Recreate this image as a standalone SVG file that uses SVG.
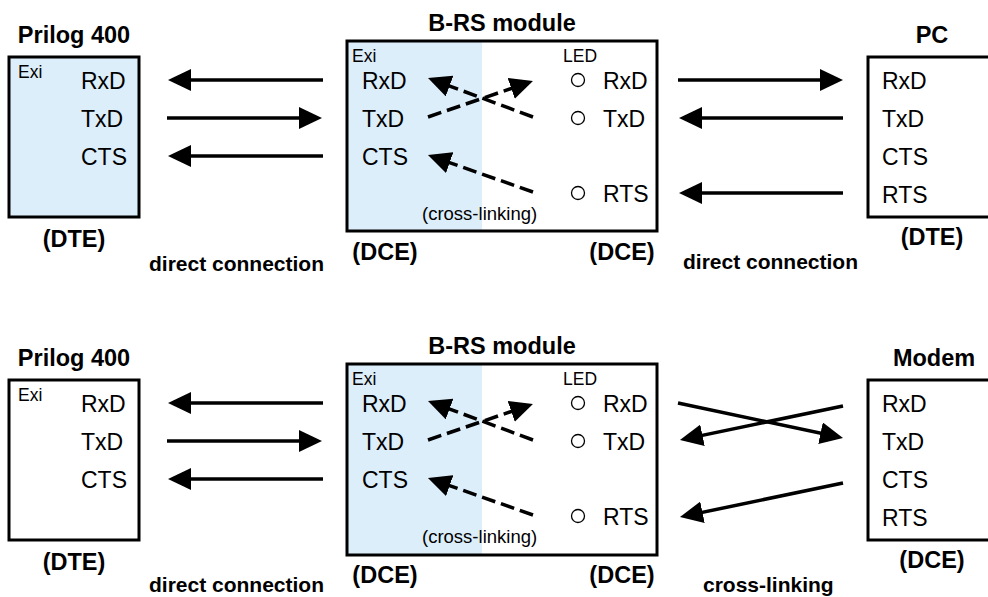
<svg xmlns="http://www.w3.org/2000/svg" width="988" height="597" viewBox="0 0 988 597">
<defs>
<style>
text{font-family:"Liberation Sans",Arial,Helvetica,sans-serif;fill:#000}
.t{font-size:23.5px;font-weight:bold;text-anchor:middle}
.lb{font-size:23px}
.sm{font-size:17.5px}
.cl{font-size:18.5px}
.b{font-size:21px;font-weight:bold}
.box{stroke:#000;stroke-width:3}
.blue{fill:#ddeefb}
.w{fill:#fff}
.ar{stroke:#000;stroke-width:3.5;fill:none;marker-end:url(#ah)}
.da{stroke:#000;stroke-width:3.5;fill:none;stroke-dasharray:14 6;marker-end:url(#ah)}
.led{fill:#fff;stroke:#000;stroke-width:1.3}
</style>
<marker id="ah" markerUnits="userSpaceOnUse" markerWidth="23" markerHeight="22" refX="15" refY="11" orient="auto">
<path d="M0,0 L23,11 L0,22 z" fill="#000"/>
</marker>
</defs>
<rect width="988" height="597" fill="#fff"/>

<!-- TOP -->
<g id="prilog-top">
<text class="t" x="74" y="43">Prilog 400</text>
<rect class="box blue" x="9" y="57" width="130" height="160"/>
<text class="sm" x="18" y="78">Exi</text>
<text class="lb" x="81" y="89">RxD</text>
<text class="lb" x="81" y="127">TxD</text>
<text class="lb" x="81" y="165">CTS</text>
<text class="t" x="74" y="247">(DTE)</text>
</g>
<g id="brs-top">
<text class="t" x="502" y="31">B-RS module</text>
<rect class="w" x="347" y="41" width="310" height="190"/>
<rect class="blue" x="347" y="41" width="135" height="190"/>
<rect class="box" x="347" y="41" width="310" height="190" fill="none"/>
<text class="sm" x="352" y="62">Exi</text>
<text class="sm" x="563" y="62">LED</text>
<text class="lb" x="362" y="89">RxD</text>
<text class="lb" x="362" y="127">TxD</text>
<text class="lb" x="362" y="165">CTS</text>
<circle class="led" cx="578" cy="80" r="6.5"/>
<circle class="led" cx="578" cy="118" r="6.5"/>
<circle class="led" cx="578" cy="193" r="6.5"/>
<text class="lb" x="603" y="89">RxD</text>
<text class="lb" x="603" y="127">TxD</text>
<text class="lb" x="603" y="202">RTS</text>
<text class="cl" x="422" y="220">(cross-linking)</text>
<text class="t" x="385" y="260">(DCE)</text>
<text class="t" x="622" y="260">(DCE)</text>
</g>
<g id="pc">
<text class="t" x="932" y="43">PC</text>
<rect class="box w" x="868" y="57" width="140" height="160"/>
<text class="lb" x="882" y="89">RxD</text>
<text class="lb" x="882" y="127">TxD</text>
<text class="lb" x="882" y="165">CTS</text>
<text class="lb" x="882" y="203">RTS</text>
<text class="t" x="932" y="245">(DTE)</text>
</g>
<g id="labels-top">
<text class="b" x="149" y="271">direct connection</text>
<text class="b" x="683" y="269">direct connection</text>
</g>

<!-- BOTTOM -->
<g id="prilog-bottom">
<text class="t" x="74" y="366">Prilog 400</text>
<rect class="box w" x="9" y="380" width="130" height="160"/>
<text class="sm" x="18" y="401">Exi</text>
<text class="lb" x="81" y="412">RxD</text>
<text class="lb" x="81" y="450">TxD</text>
<text class="lb" x="81" y="488">CTS</text>
<text class="t" x="74" y="570">(DTE)</text>
</g>
<g id="brs-bottom">
<text class="t" x="502" y="354">B-RS module</text>
<rect class="w" x="347" y="364" width="310" height="191"/>
<rect class="blue" x="347" y="364" width="135" height="191"/>
<rect class="box" x="347" y="364" width="310" height="191" fill="none"/>
<text class="sm" x="352" y="385">Exi</text>
<text class="sm" x="563" y="385">LED</text>
<text class="lb" x="362" y="412">RxD</text>
<text class="lb" x="362" y="450">TxD</text>
<text class="lb" x="362" y="488">CTS</text>
<circle class="led" cx="578" cy="403" r="6.5"/>
<circle class="led" cx="578" cy="441" r="6.5"/>
<circle class="led" cx="578" cy="516" r="6.5"/>
<text class="lb" x="603" y="412">RxD</text>
<text class="lb" x="603" y="450">TxD</text>
<text class="lb" x="603" y="525">RTS</text>
<text class="cl" x="422" y="543">(cross-linking)</text>
<text class="t" x="385" y="583">(DCE)</text>
<text class="t" x="622" y="583">(DCE)</text>
</g>
<g id="modem">
<text class="t" x="934" y="366">Modem</text>
<rect class="box w" x="868" y="380" width="140" height="160"/>
<text class="lb" x="882" y="412">RxD</text>
<text class="lb" x="882" y="450">TxD</text>
<text class="lb" x="882" y="488">CTS</text>
<text class="lb" x="882" y="526">RTS</text>
<text class="t" x="932" y="568">(DCE)</text>
</g>
<g id="labels-bottom">
<text class="b" x="149" y="592">direct connection</text>
<text class="b" x="703" y="592">cross-linking</text>
</g>

<g id="connectors">
<line class="ar" x1="323" y1="80" x2="176" y2="80"/>
<line class="ar" x1="167" y1="118" x2="314" y2="118"/>
<line class="ar" x1="323" y1="156" x2="176" y2="156"/>
<line class="da" x1="533" y1="117" x2="435.5" y2="80.8"/>
<line class="da" x1="428" y1="117" x2="525.4" y2="83.6"/>
<line class="da" x1="533" y1="192" x2="435.5" y2="157.7"/>
<line class="ar" x1="678" y1="80" x2="835" y2="80"/>
<line class="ar" x1="843" y1="118" x2="687" y2="118"/>
<line class="ar" x1="843" y1="193" x2="687" y2="193"/>

<line class="ar" x1="323" y1="403" x2="176" y2="403"/>
<line class="ar" x1="167" y1="441" x2="314" y2="441"/>
<line class="ar" x1="323" y1="479" x2="176" y2="479"/>
<line class="da" x1="533" y1="440" x2="435.5" y2="403.8"/>
<line class="da" x1="428" y1="440" x2="525.4" y2="406.6"/>
<line class="da" x1="533" y1="515" x2="435.5" y2="480.7"/>
<line class="ar" x1="678" y1="403" x2="835.2" y2="436.3"/>
<line class="ar" x1="843" y1="406" x2="687.8" y2="438.4"/>
<line class="ar" x1="843" y1="483" x2="687.8" y2="515.4"/>
</g>
</svg>
